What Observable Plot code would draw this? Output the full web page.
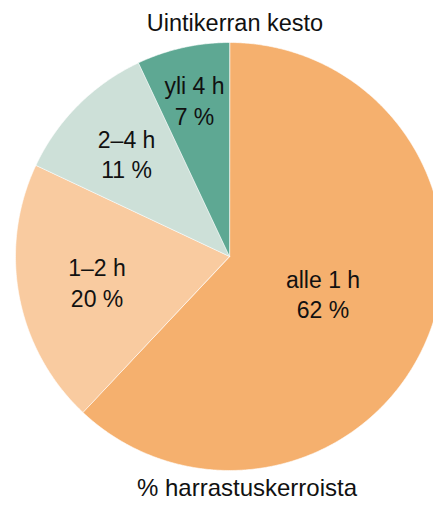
<!DOCTYPE html>
<html>
<head>
<meta charset="utf-8">
<script src="https://cdn.jsdelivr.net/npm/d3@7"></script>
<script src="https://cdn.jsdelivr.net/npm/@observablehq/plot@0.6"></script>
<style>
  html, body { margin: 0; padding: 0; background: #fff; overflow: hidden; }
  #wrap { position: relative; width: 433px; height: 506px; font-family: "Liberation Sans", Arial, Helvetica, sans-serif; color: #111; }
  #title { position: absolute; left: 0; width: 470px; top: 9px; text-align: center; font-size: 23.5px; line-height: 28px; white-space: nowrap; }
  #caption { position: absolute; left: 0; width: 494px; top: 474px; text-align: center; font-size: 24px; line-height: 28px; white-space: nowrap; }
  #chart { position: absolute; left: 0; top: 40px; }
  #chart svg { overflow: hidden; }
</style>
</head>
<body>
<div id="wrap">
  <div id="title">Uintikerran kesto</div>
  <div id="chart"></div>
  <div id="caption">% harrastuskerroista</div>
</div>
<script>
// Data
const categories = ["alle 1 h", "1–2 h", "2–4 h", "yli 4 h"];
const shares = [62, 20, 11, 7];
const colors = ["#f5b06e", "#f9cba0", "#cde0d8", "#5ea893"];

// Layout (pixels / fractions of radius)
const W = 433, H = 434, CX = 229, CY = 216, R = 214;
const labelRadius = [0.47, 0.63, 0.68, 0.75];

const total = d3.sum(shares);
let acc = 0;
const slices = categories.map((c, i) => {
  const a0 = acc / total * 2 * Math.PI;
  acc += shares[i];
  const a1 = acc / total * 2 * Math.PI;
  return {category: c, value: shares[i], a0, a1, i};
});

// polygon vertices for each slice (center + arc)
const pts = [];
for (const s of slices) {
  pts.push({category: s.category, x: 0, y: 0});
  const n = Math.max(2, Math.ceil((s.a1 - s.a0) / (Math.PI / 360)));
  for (let k = 0; k <= n; k++) {
    const a = s.a0 + (s.a1 - s.a0) * k / n;
    pts.push({category: s.category, x: Math.sin(a), y: Math.cos(a)});
  }
}

const labels = slices.map(s => {
  const m = (s.a0 + s.a1) / 2, r = labelRadius[s.i];
  return {x: r * Math.sin(m), y: r * Math.cos(m), text: `${s.category}\n${s.value} %`};
});

const chart = Plot.plot({
  width: W, height: H,
  margin: 0,
  style: {background: "transparent", overflow: "hidden"},
  x: {domain: [-CX / R, (W - CX) / R], axis: null},
  y: {domain: [-(H - CY) / R, CY / R], axis: null},
  color: {domain: categories, range: colors},
  marks: [
    Plot.line(pts, {x: "x", y: "y", z: "category", fill: "category", stroke: "white", strokeWidth: 0.6, curve: "linear-closed"}),
    Plot.text(labels, {x: "x", y: "y", text: "text", fontSize: 23, lineHeight: 1.32, fill: "#111", fontFamily: "Liberation Sans, Arial, sans-serif"})
  ]
});
document.getElementById("chart").appendChild(chart);
</script>
</body>
</html>
